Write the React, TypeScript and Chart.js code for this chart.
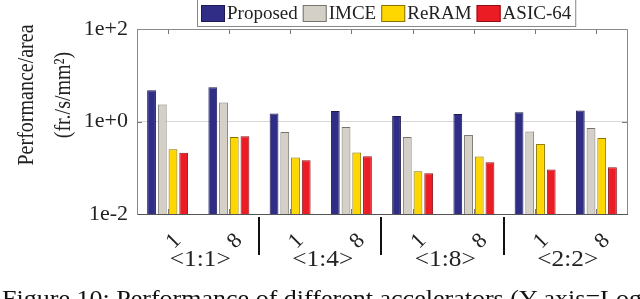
import React, { useEffect, useRef } from 'react';
import { Chart, registerables } from 'chart.js';

Chart.register(...registerables);

const categories = ['1', '8', '1', '8', '1', '8', '1', '8'];
const groupLabels = ['<1:1>', '<1:4>', '<1:8>', '<2:2>'];
const seriesNames = ['Proposed', 'IMCE', 'ReRAM', 'ASIC-64'];
const proposed = [4.75, 5.52, 1.49, 1.69, 1.32, 1.46, 1.59, 1.73];
const imce = [2.33, 2.58, 0.596, 0.764, 0.465, 0.513, 0.608, 0.727];
const reram = [0.252, 0.465, 0.167, 0.214, 0.0842, 0.175, 0.328, 0.442];
const asic = [0.21, 0.481, 0.146, 0.178, 0.0762, 0.132, 0.0916, 0.103];
const yTicks = [0.01, 1, 100];
const yTitle = ['Performance/area', '(fr./s/mm²)'];
const caption = 'Figure 10: Performance of different accelerators (Y-axis=Log';

const fills = ['#302d87', '#d4d0c8', '#ffd700', '#ec1c24'];
const borders = ['#1c1a50', '#77746e', '#8a7400', '#8a1218'];
const FONT = "'Liberation Serif', 'Times New Roman', serif";

const decor = {
  id: 'decor',
  beforeDatasetsDraw(chart: any) {
    const { ctx, chartArea: a, scales } = chart;
    const x = scales.x;
    const y = scales.y;
    ctx.save();
    ctx.strokeStyle = '#777';
    ctx.lineWidth = 1;
    ctx.beginPath();
    for (let i = 0; i < categories.length; i++) {
      const px = Math.round(x.getPixelForValue(i)) + 0.5;
      ctx.moveTo(px, a.top);
      ctx.lineTo(px, a.top + 5);
      ctx.moveTo(px, a.bottom);
      ctx.lineTo(px, a.bottom - 5);
    }
    const py = Math.round(y.getPixelForValue(1)) + 0.5;
    ctx.moveTo(a.left, py);
    ctx.lineTo(a.left + 5, py);
    ctx.moveTo(a.right, py);
    ctx.lineTo(a.right - 5, py);
    ctx.stroke();
    ctx.restore();
  },
  afterDraw(chart: any) {
    const { ctx, chartArea: a, scales } = chart;
    const x = scales.x;
    ctx.save();
    // top & right borders
    ctx.strokeStyle = '#8a8a8a';
    ctx.lineWidth = 1;
    ctx.beginPath();
    ctx.moveTo(a.left, Math.round(a.top) + 0.5);
    ctx.lineTo(a.right + 0.5, Math.round(a.top) + 0.5);
    ctx.lineTo(Math.round(a.right) + 0.5, a.bottom);
    ctx.stroke();

    // group separators
    ctx.strokeStyle = '#111';
    ctx.lineWidth = 2;
    ctx.beginPath();
    for (let g = 0; g < groupLabels.length - 1; g++) {
      const sx = Math.round((x.getPixelForValue(2 * g + 1) + x.getPixelForValue(2 * g + 2)) / 2) - 1;
      ctx.moveTo(sx, a.bottom + 3);
      ctx.lineTo(sx, a.bottom + 41);
    }
    ctx.stroke();

    // group labels
    ctx.fillStyle = '#222';
    ctx.font = `23px ${FONT}`;
    ctx.textAlign = 'center';
    ctx.textBaseline = 'middle';
    groupLabels.forEach((lab, g) => {
      const gx = (x.getPixelForValue(2 * g) + x.getPixelForValue(2 * g + 1)) / 2 + 2;
      ctx.save();
      ctx.translate(gx, a.bottom + 46);
      ctx.scale(1.1, 1);
      ctx.fillText(lab, 0, 0);
      ctx.restore();
    });

    // y title
    ctx.font = `20px ${FONT}`;
    const titleX = [27, 64];
    yTitle.forEach((line, i) => {
      ctx.save();
      ctx.translate(titleX[i], 95);
      ctx.scale(1.12, 1);
      ctx.rotate(-Math.PI / 2);
      ctx.fillText(line, 0, 0);
      ctx.restore();
    });

    // legend
    ctx.font = `19px ${FONT}`;
    const widths = seriesNames.map((n) => ctx.measureText(n).width);
    const sw = 24, sh = 17, gapT = 2, gapI = 5, pad = 4;
    let total = pad * 2 + gapI * (seriesNames.length - 1);
    widths.forEach((w) => (total += sw + gapT + w));
    const lx = Math.round((a.left + a.right) / 2 + 4 - total / 2);
    ctx.fillStyle = '#fff';
    ctx.fillRect(lx, -2, total, 29);
    ctx.strokeStyle = '#888';
    ctx.lineWidth = 1;
    ctx.strokeRect(lx + 0.5, -1.5, total, 28);
    let cx = lx + pad;
    ctx.textAlign = 'left';
    ctx.textBaseline = 'middle';
    seriesNames.forEach((n, i) => {
      ctx.fillStyle = fills[i];
      ctx.fillRect(cx, 5, sw, sh);
      ctx.strokeStyle = borders[i];
      ctx.strokeRect(cx + 0.5, 5.5, sw - 1, sh - 1);
      cx += sw + gapT;
      ctx.fillStyle = '#222';
      ctx.fillText(n, cx, 14);
      cx += widths[i] + gapI;
    });

    // caption
    ctx.font = `23px ${FONT}`;
    ctx.fillStyle = '#111';
    ctx.textAlign = 'left';
    ctx.textBaseline = 'alphabetic';
    const cw = ctx.measureText(caption).width;
    ctx.save();
    ctx.translate(2, 306);
    ctx.scale(640 / cw, 1);
    ctx.fillText(caption, 0, 0);
    ctx.restore();
    ctx.restore();
  },
};

export default function App() {
  const ref = useRef<HTMLCanvasElement | null>(null);
  useEffect(() => {
    if (!ref.current) return;
    const series = [proposed, imce, reram, asic];
    const chart = new Chart(ref.current, {
      type: 'bar',
      data: {
        labels: categories,
        datasets: series.map((d, i) => ({
          label: seriesNames[i],
          data: d,
          backgroundColor: fills[i],
          borderColor: borders[i],
          borderWidth: 1,
          categoryPercentage: 0.7,
          barPercentage: 0.82,
        })),
      },
      options: {
        animation: false,
        responsive: true,
        maintainAspectRatio: false,
        layout: { padding: { left: 0, right: 13, top: 29, bottom: 0 } },
        plugins: { legend: { display: false }, tooltip: { enabled: false }, title: { display: false } },
        scales: {
          x: {
            type: 'category',
            grid: { display: false, drawTicks: false },
            border: { display: true, color: '#555', width: 1 },
            ticks: {
              autoSkip: false,
              minRotation: 45,
              maxRotation: 45,
              labelOffset: 10,
              padding: 14,
              color: '#222',
              font: { family: FONT, size: 22 },
            },
            afterFit: (s: any) => {
              s.height = 85;
            },
          },
          y: {
            type: 'logarithmic',
            min: 0.01,
            max: 100,
            grid: {
              drawTicks: false,
              color: (c: any) => (c.tick && c.tick.value === 1 ? '#d8d8d8' : 'rgba(0,0,0,0)'),
            },
            border: { display: true, color: '#888', width: 1 },
            afterBuildTicks: (s: any) => {
              s.ticks = yTicks.map((v) => ({ value: v }));
            },
            ticks: {
              padding: 9,
              color: '#222',
              font: { family: FONT, size: 22 },
              callback: (v: any) => {
                const e = Math.round(Math.log10(Number(v)));
                return '1e' + (e >= 0 ? '+' : '-') + Math.abs(e);
              },
            },
            afterFit: (s: any) => {
              s.width = 137;
            },
          },
        },
      },
      plugins: [decor],
    });
    return () => chart.destroy();
  }, []);
  return (
    <div style={{ position: 'absolute', left: 0, top: 0, width: 640, height: 299, background: '#fff' }}>
      <canvas ref={ref} />
    </div>
  );
}
